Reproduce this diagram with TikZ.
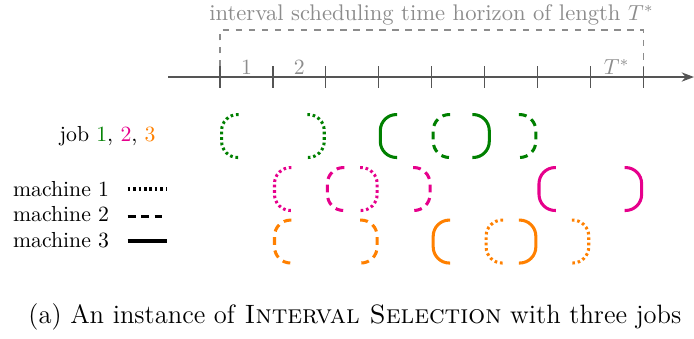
\documentclass[tikz,border=0pt]{standalone}
\usepackage{amsmath,amssymb}
\usepackage{tikz}
\usetikzlibrary{arrows.meta,positioning}

\definecolor{jobone}{RGB}{0,128,0}
\definecolor{jobtwo}{RGB}{230,0,140}
\definecolor{jobthree}{RGB}{255,128,0}
\definecolor{axisgray}{RGB}{85,85,85}
\definecolor{horgray}{RGB}{140,140,140}

% one interval: start, end, row, style
\newcommand{\jobint}[4]{%
  \draw[#4,rounded corners=7.4pt] (#1+0.35,#3+0.406) -- (#1+0.03,#3+0.406) -- (#1+0.03,#3-0.406) -- (#1+0.35,#3-0.406);
  \draw[#4,rounded corners=7.4pt] (#2-0.35,#3+0.406) -- (#2-0.03,#3+0.406) -- (#2-0.03,#3-0.406) -- (#2-0.35,#3-0.406);}

\begin{document}
\begin{tikzpicture}[x=0.855cm,y=0.855cm,
  axis/.style={draw=axisgray,line width=0.6pt},
  hor/.style={draw=horgray,dashed,line width=0.6pt},
  lbl/.style={text=horgray,inner sep=0pt},
  mone/.style={line width=1.4pt,dash pattern=on 1.2pt off 1.3pt},
  mtwo/.style={line width=1.4pt,dash pattern=on 3.6pt off 2.6pt},
  mthree/.style={line width=1.4pt}
]
\useasboundingbox (-4.159,-4.934) rectangle (8.96,1.456);

% time axis
\draw[axis,-{Stealth[length=2mm]}] (-0.98,0) -- (8.96,0);
\foreach \t in {0,...,8}{
  \coordinate (t\t) at (\t,0);
  \draw[axis] (\t,0.2) -- (\t,-0.2);
}
\node[lbl,anchor=base] (lone) at (0.5,0.05) {1};
\node[lbl,anchor=base] (ltwo) at (1.5,0.05) {2};
\node[lbl,anchor=base] (lT) at (7.5,0.05) {$T^*$};

% horizon
\node[lbl,anchor=base,font=\fontsize{10.4}{12}\selectfont] (horizon) at (4.0,1.065) {interval scheduling time horizon of length $T^*$};
\draw[hor] (0,0.2) |- (8,0.89) -- (8,0.2);

% legend
\node[anchor=base east,inner sep=0pt] (jobs) at (-1.21,-1.22) {job {\color{jobone}1}, {\color{jobtwo}2}, {\color{jobthree}3}};
\node[anchor=base west,inner sep=0pt] (mach1) at (-3.92,-2.25) {machine 1};
\node[anchor=base west,inner sep=0pt] (mach2) at (-3.92,-2.74) {machine 2};
\node[anchor=base west,inner sep=0pt] (mach3) at (-3.92,-3.23) {machine 3};
\draw[mone] (-1.745,-2.117) -- (-1.008,-2.117);
\draw[mtwo] (-1.745,-2.628) -- (-1.008,-2.628);
\draw[mthree] (-1.745,-3.10) -- (-1.008,-3.10);

% job 1
\jobint{0}{2}{-1.115}{jobone,mone}
\jobint{3}{5.12}{-1.115}{jobone,mthree}
\jobint{4}{6}{-1.115}{jobone,mtwo}
% job 2
\jobint{1}{3}{-2.117}{jobtwo,mone}
\jobint{2}{4}{-2.117}{jobtwo,mtwo}
\jobint{6}{8}{-2.117}{jobtwo,mthree}
% job 3
\jobint{1}{3}{-3.11}{jobthree,mtwo}
\jobint{4}{6}{-3.11}{jobthree,mthree}
\jobint{5}{7}{-3.11}{jobthree,mone}

\node[anchor=base,inner sep=0pt,font=\fontsize{12.2}{14}\selectfont] (cap) at (2.55,-4.65) {(a) An instance of \textsc{Interval Selection} with three jobs};
\end{tikzpicture}
\end{document}
